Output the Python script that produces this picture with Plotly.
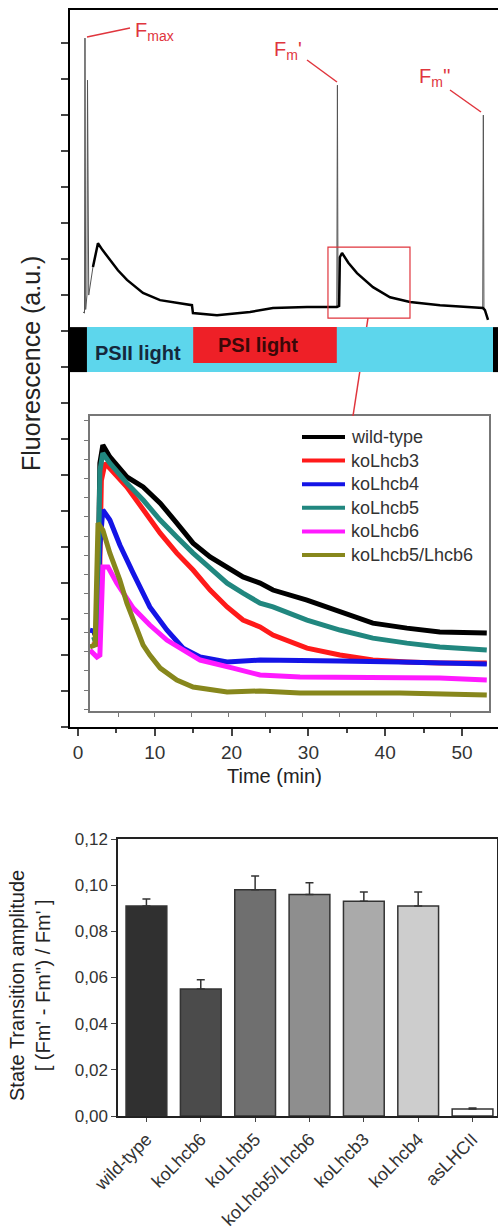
import plotly.graph_objects as go

W, H = 498, 1229

# ---- top panel: whole-run trace (time in min, fluorescence a.u.)
main_time = [1.95, 2.60, 3.20, 4.17, 5.20, 6.38, 8.46, 10.68, 12.89, 14.84, 14.97, 18.10, 22.40,
             25.39, 29.82, 33.72, 34.00, 34.10, 34.38, 35.20, 36.33, 38.41, 40.63, 43.23, 47.14,
             51.43, 52.73, 52.99, 53.39]
main_fluo = [12.78, 13.44, 13.25, 12.97, 12.69, 12.42, 12.06, 11.86, 11.78, 11.72, 11.50, 11.44, 11.53,
             11.64, 11.67, 11.67, 11.70, 13.05, 13.17, 12.90, 12.61, 12.22, 11.94, 11.81, 11.72,
             11.67, 11.64, 11.58, 11.31]
# saturating flashes (Fmax, Fm', Fm'')
flash_time = [0.65, 0.85, 0.91, 1.00, 1.17, 1.24, 1.40, 1.95, None, 33.70, 33.78, 33.86, None, 52.70, 52.78, 52.86]
flash_fluo = [11.53, 11.50, 19.14, 11.60, 12.00, 17.97, 12.00, 12.78, None, 11.67, 17.83, 11.72, None, 11.64, 17.00, 11.60]

# light periods (min)
psii_1 = (1.17, 15.0)
psi = (15.0, 33.7)
psii_2 = (33.7, 54.04)

# ---- inset: zoom on the state 1 -> state 2 transition
wt_x = [-0.70, -0.56, -0.49, -0.41, -0.22, 0.24, 0.68, 1.14, 1.59, 2.03, 2.49, 2.95, 3.38, 3.84, 4.19, 5.11, 6.00, 6.89, 7.81, 8.70, 9.97]
wt_y = [2.96, 3.00, 11.80, 12.74, 12.12, 11.08, 10.56, 9.72, 8.68, 7.64, 6.92, 6.40, 5.88, 5.56, 5.20, 4.68, 4.06, 3.48, 3.22, 3.02, 2.96]
b3_x = [-0.70, -0.53, -0.45, -0.35, 0.24, 0.68, 1.14, 1.59, 2.03, 2.49, 2.95, 3.38, 3.84, 4.19, 5.11, 6.00, 6.89, 7.81, 8.70, 9.97]
b3_y = [2.34, 2.40, 10.90, 11.80, 10.56, 9.36, 8.16, 7.12, 6.24, 5.20, 4.32, 3.64, 3.28, 2.86, 2.18, 1.82, 1.56, 1.46, 1.40, 1.40]
b4_x = [-0.76, -0.57, -0.49, -0.41, -0.22, 0.05, 0.41, 0.86, 1.32, 1.76, 2.22, 2.95, 3.84, 4.92, 6.00, 7.62, 8.70, 9.97]
b4_y = [3.12, 3.02, 7.50, 9.36, 8.84, 7.54, 6.08, 4.32, 3.12, 2.18, 1.72, 1.46, 1.56, 1.56, 1.51, 1.46, 1.40, 1.35]
b5_x = [-0.70, -0.56, -0.49, -0.41, -0.22, 0.24, 0.68, 1.14, 1.59, 2.03, 2.49, 2.95, 3.38, 3.84, 4.19, 5.11, 6.00, 6.89, 7.81, 8.70, 9.97]
b5_y = [2.60, 2.70, 11.40, 12.32, 11.80, 10.76, 9.88, 8.84, 7.96, 7.12, 6.34, 5.56, 5.04, 4.52, 4.32, 3.64, 3.12, 2.70, 2.44, 2.24, 2.08]
b6_x = [-0.76, -0.57, -0.49, -0.41, -0.27, -0.03, 0.41, 0.86, 1.32, 1.76, 2.22, 3.11, 3.84, 4.92, 6.00, 7.62, 8.70, 9.97]
b6_y = [2.08, 1.72, 1.82, 6.40, 6.40, 5.56, 4.26, 3.38, 2.60, 2.08, 1.56, 1.14, 0.78, 0.68, 0.68, 0.68, 0.62, 0.52]
b56_x = [-0.76, -0.62, -0.54, -0.41, -0.22, 0.05, 0.24, 0.46, 0.68, 0.86, 1.14, 1.59, 2.03, 2.95, 3.84, 4.92, 7.62, 9.97]
b56_y = [2.24, 2.34, 8.68, 8.32, 7.12, 5.72, 4.52, 3.38, 2.34, 1.82, 1.14, 0.52, 0.16, -0.10, -0.05, -0.16, -0.16, -0.26]

inset_series = [
    ('wild-type', wt_x, wt_y, '#000000'),
    ('koLhcb3', b3_x, b3_y, '#ff1a1a'),
    ('koLhcb4', b4_x, b4_y, '#1414e6'),
    ('koLhcb5', b5_x, b5_y, '#21877f'),
    ('koLhcb6', b6_x, b6_y, '#ff1aff'),
    ('koLhcb5/Lhcb6', b56_x, b56_y, '#87871c'),
]

# ---- bottom panel: state transition amplitude
genotypes = ['wild-type', 'koLhcb6', 'koLhcb5', 'koLhcb5/Lhcb6', 'koLhcb3', 'koLhcb4', 'asLHCII']
amplitude = [0.091, 0.055, 0.098, 0.096, 0.093, 0.091, 0.003]
amp_err = [0.003, 0.004, 0.006, 0.005, 0.004, 0.006, 0.0005]
bar_colors = ['#303030', '#4b4b4b', '#6f6f6f', '#8e8e8e', '#aaaaaa', '#cdcdcd', '#ffffff']


def px(x):
    return x / W


def py(y):
    return 1 - y / H


FONT = 'Liberation Sans, Arial, sans-serif'
RED = '#e0353d'

fig = go.Figure()

fig.add_trace(go.Scatter(x=flash_time, y=flash_fluo, mode='lines', line=dict(color='#555555', width=1),
                         showlegend=False, hoverinfo='skip', xaxis='x', yaxis='y'))
fig.add_trace(go.Scatter(x=main_time, y=main_fluo, mode='lines', line=dict(color='black', width=2.5),
                         showlegend=False, xaxis='x', yaxis='y'))

for name, xs, ys, col in inset_series:
    fig.add_trace(go.Scatter(x=xs, y=ys, mode='lines', name=name, line=dict(color=col, width=5),
                             showlegend=False, xaxis='x2', yaxis='y2'))

fig.add_trace(go.Bar(x=genotypes, y=amplitude, width=0.75, showlegend=False,
                     marker=dict(color=bar_colors, line=dict(color='#333333', width=1.5)),
                     error_y=dict(type='data', array=amp_err, arrayminus=[0] * len(amp_err), symmetric=False,
                                  color='#333333', thickness=1.5, width=4),
                     xaxis='x3', yaxis='y3'))

shapes = []
# link from the zoom box to the inset (sits under the light bar)
shapes.append(dict(type='line', xref='x', yref='y', x0=37.76, y0=11.36, x1=35.81, y1=8.64,
                   line=dict(color=RED, width=1.5)))
shapes.append(dict(type='rect', xref='x', yref='y', x0=32.55, y0=11.36, x1=43.23, y1=13.33,
                   line=dict(color=RED, width=1.2)))
# light protocol bar
shapes.append(dict(type='rect', xref='x', yref='y', x0=-1.04, x1=psii_1[0], y0=9.86, y1=11.11,
                   fillcolor='black', line=dict(width=0)))
shapes.append(dict(type='rect', xref='x', yref='y', x0=psii_1[0], x1=psii_2[1], y0=9.86, y1=11.11,
                   fillcolor='#5dd6ec', line=dict(width=0)))
shapes.append(dict(type='rect', xref='x', yref='y', x0=psi[0], x1=psi[1], y0=10.11, y1=11.11,
                   fillcolor='#ee2027', line=dict(width=0)))
shapes.append(dict(type='rect', xref='x', yref='y', x0=psii_2[1], x1=54.69, y0=9.86, y1=11.11,
                   fillcolor='black', line=dict(width=0)))
# pointers to the flashes
for (a, b, c, d) in [(87, 37, 130, 28), (307, 60, 337, 82), (450, 90, 481, 112)]:
    shapes.append(dict(type='line', xref='paper', yref='paper', x0=px(a), y0=py(b), x1=px(c), y1=py(d),
                       line=dict(color=RED, width=1.5)))

annotations = [
    dict(text='F<sub>max</sub>', x=px(133), y=py(32), xanchor='left', font=dict(size=20, color=RED)),
    dict(text="F<sub>m</sub>'", x=px(272), y=py(50), xanchor='left', font=dict(size=20, color=RED)),
    dict(text="F<sub>m</sub>''", x=px(417), y=py(77), xanchor='left', font=dict(size=20, color=RED)),
    dict(text='<b>PSII light</b>', x=px(138), y=py(353), font=dict(size=20, color='#15283c')),
    dict(text='<b>PSI light</b>', x=px(258), y=py(345), font=dict(size=20, color='#3a0808')),
    dict(text='Time (min)', x=px(274), y=py(776), font=dict(size=20, color='#222222')),
    dict(text='Fluorescence (a.u.)', x=px(31), y=py(364), textangle=-90, font=dict(size=25, color='#222222')),
    dict(text="State Transition amplitude<br>[ (Fm' - Fm'') / Fm' ]", x=px(30), y=py(986), textangle=-90,
         font=dict(size=20, color='#222222')),
]

# legend of the inset, drawn by hand so the row spacing matches
for i, (name, xs, ys, col) in enumerate(inset_series):
    row_y = 437 + 23.6 * i
    shapes.append(dict(type='line', xref='paper', yref='paper', x0=px(302), x1=px(345), y0=py(row_y), y1=py(row_y),
                       line=dict(color=col, width=4)))
    annotations.append(dict(text=name, x=px(349), y=py(row_y), xanchor='left',
                            font=dict(size=18, color='#333333')))

for a in annotations:
    a.setdefault('xanchor', 'center')
    a.update(xref='paper', yref='paper', showarrow=False, yanchor='middle')

axis_common = dict(showgrid=False, zeroline=False, showline=True, ticks='outside', automargin=False)

fig.update_layout(
    width=W, height=H, margin=dict(l=0, r=0, t=0, b=0, autoexpand=False),
    paper_bgcolor='white', plot_bgcolor='white',
    font=dict(family=FONT, color='#333333'),
    separators=',.',
    shapes=shapes, annotations=annotations,
    showlegend=False,
    xaxis=dict(axis_common, domain=[px(70), 1], range=[-1.04, 54.69], anchor='y',
               tickvals=[0, 10, 20, 30, 40, 50], ticklen=7, tickwidth=1.5, linewidth=2, linecolor='black',
               mirror=True, tickfont=dict(size=19),
               minor=dict(dtick=5, tick0=0, ticks='outside', ticklen=4, tickwidth=1.5)),
    yaxis=dict(axis_common, domain=[py(727), py(10)], range=[0, 19.92], anchor='x', dtick=1, tick0=0,
               ticklen=7, tickwidth=1.5, linewidth=2, linecolor='black', showticklabels=False),
    xaxis2=dict(axis_common, domain=[px(90), px(489)], range=[-0.757, 10.03], anchor='y2',
                tickvals=list(range(10)), ticklen=4, tickwidth=1, linewidth=1.5, linecolor='#777777',
                tickcolor='#777777', mirror=True, showticklabels=False),
    yaxis2=dict(axis_common, domain=[py(711), py(416)], range=[-1.09, 14.25], anchor='x2', dtick=1, tick0=0,
                ticklen=4, tickwidth=1, linewidth=1.5, linecolor='#777777', tickcolor='#777777',
                mirror=True, showticklabels=False),
    xaxis3=dict(axis_common, domain=[px(118), px(497)], range=[-0.523, 6.45], anchor='y3', type='category',
                tickangle=-45, ticklen=4, tickwidth=1.2, linewidth=1.5, linecolor='#222222', mirror=True,
                tickfont=dict(size=18)),
    yaxis3=dict(axis_common, domain=[py(1116), py(839)], range=[0, 0.12], anchor='x3', dtick=0.02,
                tickformat='.2f', ticklen=5, tickwidth=1.2, linewidth=1.5, linecolor='#222222', mirror=True,
                tickfont=dict(size=17)),
)

# the page body keeps its default 8px margin otherwise
fig.write_html('out.html', config={'displayModeBar': False},
               post_script="document.body.style.margin='0';")
